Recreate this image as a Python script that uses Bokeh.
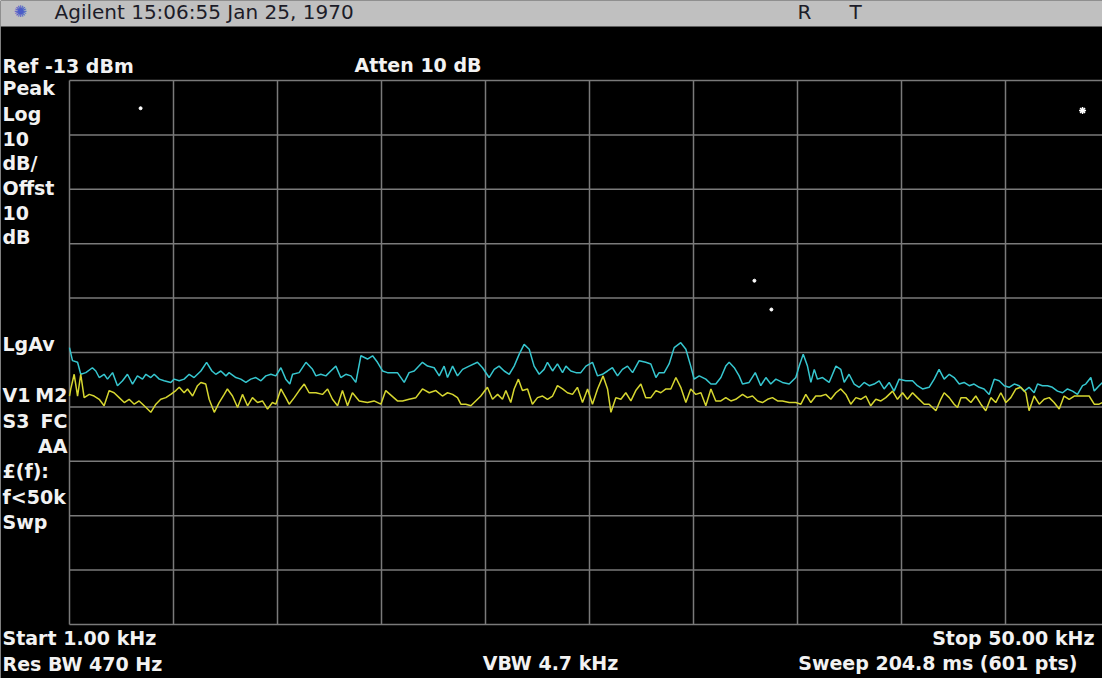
from bokeh.plotting import figure
from bokeh.models import Range1d, Label, BoxAnnotation
from bokeh.embed import file_html
from bokeh.resources import INLINE

# ---------------- data ----------------
start_khz = 1.0
stop_khz = 50.0
ref_dbm = -13.0
db_per_div = 10.0
n_div = 10

cyan_khz = [1.00, 1.14, 1.38, 1.53, 1.77, 2.08, 2.24, 2.40, 2.63, 2.79, 3.03, 3.26, 3.50, 3.73, 3.97,
            4.20, 4.44, 4.60, 4.83, 4.99, 5.23, 5.46, 5.77, 5.93, 6.17, 6.40, 6.64, 6.87, 7.19, 7.46,
            7.71, 7.89, 8.13, 8.37, 8.52, 8.84, 9.07, 9.31, 9.54, 9.78, 10.02, 10.25, 10.49, 10.72,
            10.96, 11.19, 11.38, 11.51, 11.82, 12.14, 12.45, 12.61, 12.84, 13.08, 13.31, 13.55, 13.78,
            14.02, 14.26, 14.49, 14.73, 15.04, 15.28, 15.51, 15.75, 15.98,
            16.45, 16.77, 17.00, 17.24, 17.63, 17.87, 18.18, 18.42, 18.65, 18.81, 19.05, 19.28, 19.52,
            19.83, 20.22, 20.46, 20.77, 21.01, 21.24, 21.48, 21.72, 21.95, 22.19, 22.42, 22.66, 22.89,
            23.13, 23.36, 23.52, 23.76, 23.99, 24.23, 24.39, 24.62, 24.86, 25.09, 25.33, 25.64, 25.88,
            26.11, 26.35, 26.58, 26.82, 27.05, 27.29, 27.53, 27.84, 28.15, 28.39, 28.63, 28.78, 29.02,
            29.25, 29.49, 29.80, 30.04, 30.27, 30.43, 30.67, 30.98, 31.22, 31.45, 31.69, 31.92, 32.08,
            32.32, 32.55,
            32.71, 33.02, 33.31, 33.57, 33.81, 34.04, 34.28, 34.59, 34.91, 35.22, 35.38, 35.57, 35.77,
            35.93, 36.09, 36.24, 36.48, 36.79, 37.11, 37.34, 37.50, 37.73, 37.97, 38.21, 38.44, 38.68,
            38.91, 39.15, 39.38, 39.62, 39.85, 40.09, 40.40, 40.72, 40.95, 41.19, 41.50, 41.74, 41.97,
            42.21, 42.45, 42.68, 42.92, 43.15, 43.39, 43.62, 43.86, 44.09, 44.33, 44.57, 44.80, 45.04,
            45.27, 45.51, 45.74, 45.98, 46.21, 46.45, 46.61, 46.84, 47.08, 47.31, 47.55, 47.79, 48.02,
            48.26, 48.49, 48.73, 48.88, 49.12, 49.28, 49.51, 49.67, 50.00]
cyan_dbm = [-62.1, -64.5, -64.8, -67.0, -66.7, -65.8, -66.4, -67.6, -67.0, -67.9, -66.7, -69.1, -68.2, -67.0, -68.8,
            -67.3, -67.9, -67.0, -67.6, -67.0, -67.9, -68.2, -68.5, -67.9, -68.2, -67.9, -67.0, -67.6, -66.4, -64.8,
            -66.4, -67.0, -66.4, -67.3, -66.7, -67.6, -67.9, -68.5, -67.9, -67.6, -68.2, -67.3, -67.0, -67.3,
            -65.8, -67.9, -68.8, -67.0, -66.7, -64.8, -66.1, -67.3, -67.0, -67.3, -66.4, -65.5, -67.6,
            -67.0, -67.3, -68.5, -63.6, -64.2, -63.6, -64.8, -66.4, -66.7,
            -66.7, -68.5, -66.7, -66.4, -64.8, -65.5, -65.8, -67.3, -65.5, -67.6, -65.5, -67.3, -66.1,
            -65.5, -64.8, -65.8, -67.6, -66.1, -65.5, -66.4, -67.0, -65.5, -63.3, -61.5, -62.4, -65.5,
            -67.0, -66.1, -64.8, -66.4, -65.1, -66.7, -65.5, -66.4, -66.7, -66.7, -65.5, -64.8, -67.3,
            -67.0, -66.4, -65.8, -67.3, -66.1, -65.5, -66.7, -64.5, -64.8, -65.1, -67.6, -66.7, -66.7,
            -65.1, -62.1, -61.2, -62.4, -65.5, -67.9, -67.3, -67.9, -68.8, -68.8, -67.6, -65.5, -64.8,
            -65.8, -67.3,
            -68.8, -68.5, -66.7, -69.1, -67.6, -68.8, -67.9, -68.5, -68.8, -67.6, -65.5, -63.3, -65.5,
            -68.5, -66.1, -67.9, -67.6, -68.5, -65.5, -66.1, -68.5, -67.0, -68.8, -69.4, -68.5, -69.1,
            -68.8, -68.2, -69.7, -68.5, -70.1, -67.9, -68.2, -68.2, -69.1, -69.7, -69.4, -67.9, -66.1,
            -67.9, -67.0, -67.6, -68.8, -68.5, -69.1, -68.8, -69.4, -69.7, -70.7, -67.9, -68.2, -69.1,
            -69.4, -68.8, -69.1, -70.1, -69.4, -70.4, -68.8, -69.1, -69.1, -69.4, -70.1, -70.4, -69.7,
            -70.1, -70.7, -69.1, -68.8, -67.6, -70.1, -69.1, -68.5, -68.8]

yellow_khz = [1.00, 1.06, 1.22, 1.38, 1.53, 1.69, 1.93, 2.16, 2.40, 2.63, 2.87, 3.10, 3.34, 3.58, 3.81,
              4.05, 4.28, 4.52, 4.83, 5.07, 5.30, 5.54, 5.77, 6.01, 6.17, 6.40, 6.56, 6.80, 7.03, 7.19,
              7.42, 7.58, 7.82, 8.05, 8.29, 8.44, 8.68, 8.92, 9.15, 9.39, 9.62, 9.86, 10.09, 10.33,
              10.56, 10.72, 10.96, 11.19, 11.35, 11.59, 11.82, 12.06, 12.29, 12.61, 12.92, 13.16, 13.39,
              13.63, 13.86, 14.10, 14.33, 14.65, 15.04, 15.35, 15.67, 15.90,
              16.45, 16.69, 17.00, 17.32, 17.63, 17.95, 18.26, 18.57, 18.81, 19.05, 19.28, 19.44, 19.67,
              19.91, 20.14, 20.38, 20.69, 20.93, 21.17, 21.40, 21.56, 21.79, 21.95, 22.15, 22.34, 22.58,
              22.81, 23.05, 23.29, 23.52, 23.76, 23.99, 24.23, 24.46, 24.70, 24.93, 25.17, 25.41, 25.64,
              25.88, 26.14, 26.35, 26.51, 26.74, 26.98, 27.21, 27.45, 27.68, 27.92, 28.15, 28.39, 28.63,
              28.86, 29.10, 29.33, 29.57, 29.80, 30.04, 30.27, 30.51, 30.75, 30.98, 31.22, 31.45, 31.69,
              31.92, 32.16, 32.39,
              32.71, 32.94, 33.18, 33.42, 33.65, 33.89, 34.12, 34.36, 34.59, 34.91, 35.22, 35.46, 35.69,
              35.93, 36.16, 36.40, 36.63, 36.87, 37.11, 37.34, 37.58, 37.81, 38.05, 38.28, 38.52, 38.75,
              38.99, 39.23, 39.46, 39.78, 40.01, 40.25, 40.48, 40.72, 40.95, 41.27, 41.50, 41.82, 42.05,
              42.21, 42.45, 42.68, 42.84, 43.00, 43.23, 43.47, 43.70, 43.94, 44.17, 44.41, 44.64, 44.88,
              45.12, 45.35, 45.59, 45.82, 46.06, 46.21, 46.45, 46.69, 46.92, 47.16, 47.39, 47.63, 47.86,
              48.10, 48.34, 48.57, 48.81, 49.04, 49.28, 49.51, 49.67, 50.00]
yellow_dbm = [-71.0, -69.7, -67.0, -71.0, -67.0, -71.3, -70.7, -71.0, -71.6, -72.8, -70.0, -70.4, -71.3, -72.2, -71.6,
              -72.5, -71.9, -72.8, -74.0, -72.5, -71.6, -71.3, -70.7, -70.0, -69.4, -70.4, -69.7, -71.0, -69.1, -68.5,
              -68.8, -71.6, -74.0, -72.2, -70.7, -69.7, -71.0, -73.1, -70.7, -72.8, -71.3, -72.2, -71.9, -73.4,
              -72.2, -72.5, -69.7, -71.3, -72.5, -71.3, -70.0, -68.8, -70.4, -70.4, -70.7, -69.7, -71.6,
              -72.8, -70.0, -72.8, -70.4, -71.9, -72.2, -71.9, -72.5, -70.0,
              -71.9, -71.9, -71.6, -71.3, -69.7, -70.4, -70.0, -71.0, -70.4, -70.7, -71.3, -72.5, -72.5,
              -72.8, -71.9, -71.0, -69.4, -71.6, -70.7, -71.6, -70.0, -72.2, -69.7, -67.9, -70.0, -69.7,
              -72.5, -71.3, -71.0, -71.6, -71.0, -69.1, -69.7, -70.4, -70.7, -69.4, -72.2, -69.7, -72.5,
              -69.7, -67.3, -69.7, -74.0, -71.3, -71.6, -70.4, -71.9, -70.0, -68.8, -71.3, -71.3, -70.0,
              -70.4, -69.7, -69.7, -67.6, -69.4, -72.2, -69.7, -70.7, -70.4, -72.8, -69.7, -71.9, -71.9,
              -71.3, -71.9, -71.6,
              -70.7, -71.3, -71.0, -71.9, -72.2, -71.6, -71.3, -71.9, -71.9, -72.2, -72.2, -72.5, -70.7,
              -72.2, -71.0, -71.0, -70.7, -71.6, -70.4, -69.7, -70.7, -72.5, -71.3, -71.6, -71.0, -72.8,
              -71.6, -71.9, -71.3, -70.1, -71.6, -70.4, -71.6, -70.4, -71.3, -72.5, -72.5, -73.7, -71.6,
              -70.4, -71.3, -72.5, -73.1, -71.3, -71.3, -72.2, -71.0, -72.5, -73.7, -71.3, -72.2, -70.4,
              -72.2, -71.3, -69.7, -69.4, -70.4, -73.7, -71.0, -72.5, -71.6, -71.3, -72.2, -73.4, -71.0,
              -71.6, -71.0, -71.0, -71.0, -71.0, -72.5, -72.5, -72.2, -72.2]

marker_khz = [4.35, 33.27, 34.07]
marker_dbm = [-18.1, -49.8, -55.1]
star_khz = [48.73]
star_dbm = [-18.5]

header_text = "Agilent 15:06:55 Jan 25, 1970"
status_texts = ["R", "T"]
left_upper = ["Peak", "Log", "10", "dB/", "Offst", "10", "dB"]
left_lower = ["LgAv", "V1", "S3", "£(f):", "f<50k", "Swp"]
left_lower_right = ["M2", "FC", "AA"]

# ---------------- layout / styles ----------------
W = 1102
H = 678
GRAT_L = 69      # px from canvas left to graticule left edge
GRAT_T = 80      # px from canvas top to graticule top edge
GRAT_W = 1040    # full 10-division width (right edge lies beyond the window)
GRAT_H = 544
BAR_BOTTOM = 26  # px from canvas top to bottom of the grey status bar
BASELINE_FIX = 8 # measured offset of alphabetic-baseline labels

FONT = "DejaVu Sans"
FG = "#f2f2f2"
GRID = "#7a7a7a"
CYAN = "#36c6cf"
YELLOW = "#d6d630"

khz_per_px = (stop_khz - start_khz) / GRAT_W
db_per_px = (n_div * db_per_div) / GRAT_H
y_bottom = ref_dbm - n_div * db_per_div
x0 = start_khz - GRAT_L * khz_per_px
x1 = start_khz + (W - GRAT_L) * khz_per_px
y1 = ref_dbm + GRAT_T * db_per_px
y0 = y_bottom - (H - GRAT_T - GRAT_H) * db_per_px

p = figure(width=W, height=H, x_range=Range1d(x0, x1), y_range=Range1d(y0, y1),
           x_axis_type=None, y_axis_type=None, toolbar_location=None,
           output_backend="svg", min_border=0, min_border_left=0, min_border_right=0,
           min_border_top=0, min_border_bottom=0,
           background_fill_color="black", border_fill_color="black",
           outline_line_color=None)

# graticule
xt = [start_khz + i * (stop_khz - start_khz) / n_div for i in range(n_div + 1)]
yt = [ref_dbm - i * db_per_div for i in range(n_div + 1)]
p.segment(x0=xt, y0=[y_bottom] * len(xt), x1=xt, y1=[ref_dbm] * len(xt),
          line_color=GRID, line_width=1.5)
p.segment(x0=[start_khz] * len(yt), y0=yt, x1=[stop_khz] * len(yt), y1=yt,
          line_color=GRID, line_width=1.5)

# traces
p.line(cyan_khz, cyan_dbm, line_color=CYAN, line_width=1.5)
p.line(yellow_khz, yellow_dbm, line_color=YELLOW, line_width=1.5)
p.scatter(marker_khz, marker_dbm, size=3, color="white")
p.scatter(star_khz, star_dbm, marker="asterisk", size=7, line_color="white", line_width=1.5)

# grey status bar at the top
p.add_layout(BoxAnnotation(bottom=H - BAR_BOTTOM, bottom_units="screen",
                           fill_color="#c0c0c0", fill_alpha=1.0, line_color=None))


def label(sx, sy, text, align="left", bold=True, color=FG, size="19px", baseline="alphabetic"):
    p.add_layout(Label(x=sx, y=sy, x_units="screen", y_units="screen", text=text,
                       text_font=FONT, text_font_style="bold" if bold else "normal",
                       text_font_size=size, text_color=color, text_align=align,
                       text_baseline=baseline))


# positions measured in the 1110x686 screenshot (8px page margin)
def at(rx, ry, text, align="left", baseline="alphabetic", **kw):
    fix = BASELINE_FIX if baseline == "alphabetic" else 0
    label(rx - 8, (H + 8) - ry + fix, text, align, baseline=baseline, **kw)


at(28, 19, "✺", "center", bold=False, color="#4a5cc8", size="16px", baseline="middle")
at(62, 27, header_text, bold=False, color="#1c1c28", size="20px")
at(805, 27, status_texts[0], bold=False, color="#1c1c28", size="20px")
at(857, 27, status_texts[1], bold=False, color="#1c1c28", size="20px")

LX = 10
at(LX, 81, "Ref -13 dBm")
at(362, 80, "Atten 10 dB")

for ry, t in zip([103, 129, 154, 178, 203, 228, 252], left_upper):
    at(LX, ry, t)
for ry, t in zip([359, 410, 436, 486, 512, 537], left_lower):
    at(LX, ry, t)
for ry, t in zip([410, 436, 461], left_lower_right):
    at(75, ry, t, "right")

at(LX, 653, "Start 1.00 kHz")
at(1102, 653, "Stop 50.00 kHz", "right")
at(LX, 679, "Res BW 470 Hz")
at(558, 678, "VBW 4.7 kHz", "center")
at(1085, 678, "Sweep 204.8 ms (601 pts)", "right")

open("out.html", "w").write(file_html(p, INLINE))
